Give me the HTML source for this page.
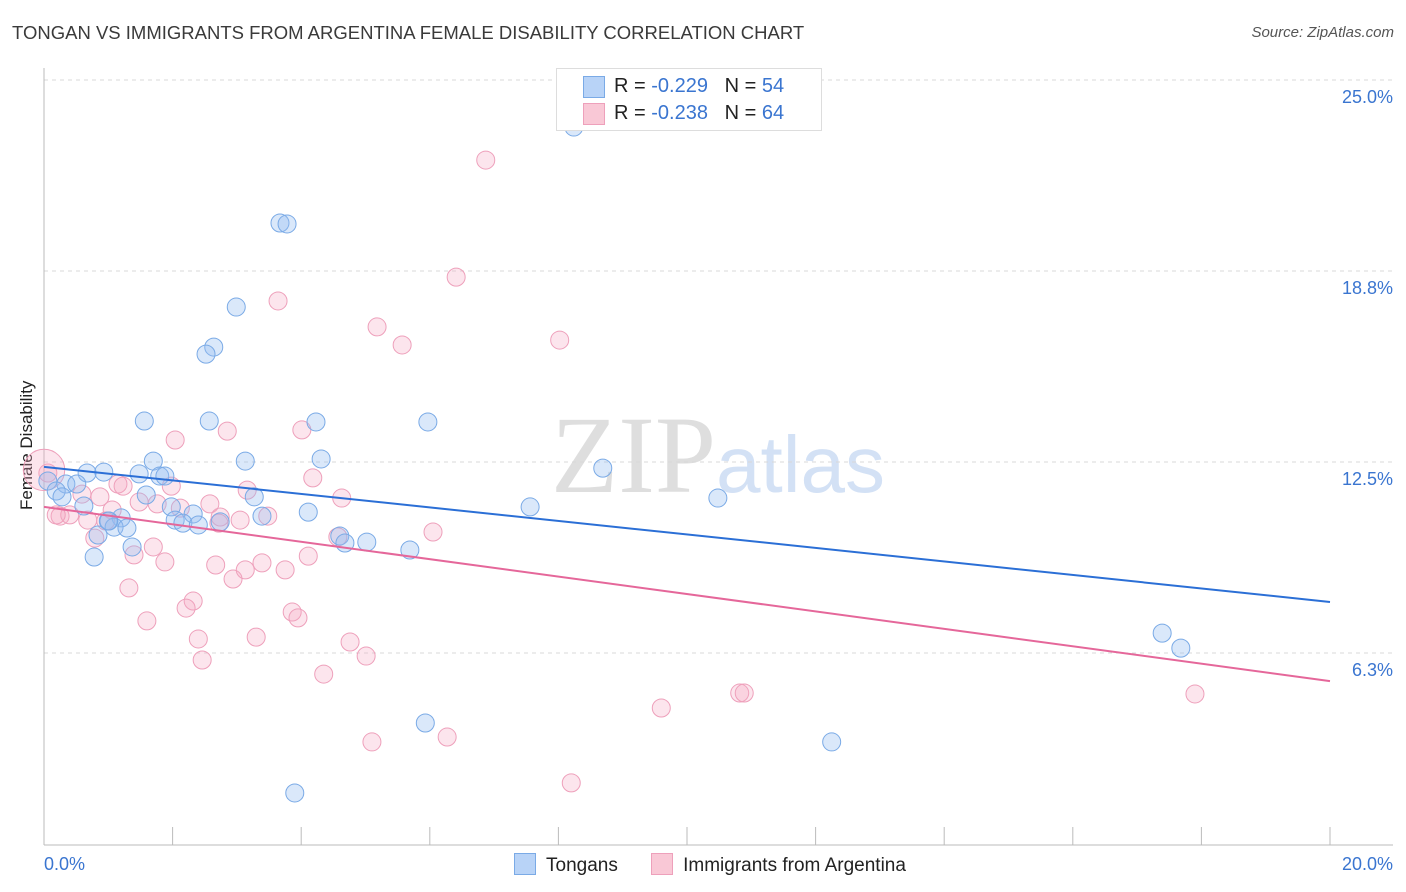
<!DOCTYPE html>
<html><head><meta charset="utf-8"><style>
body{margin:0;background:#fff;font-family:"Liberation Sans",sans-serif;}
#wrap{position:relative;width:1406px;height:892px;overflow:hidden;}
.t{position:absolute;white-space:nowrap;}
</style></head><body>
<div id="wrap">
<div class="t" style="left:12px;top:22px;font-size:18.5px;color:#3a3a3a;">TONGAN VS IMMIGRANTS FROM ARGENTINA FEMALE DISABILITY CORRELATION CHART</div>
<div class="t" style="right:12px;top:24px;font-size:15px;color:#555;font-style:italic;">Source: ZipAtlas.com</div>
<div class="t" style="left:-28px;top:445px;font-size:17px;color:#222;transform:rotate(-90deg);transform-origin:center;width:110px;text-align:center;">Female Disability</div>
<svg id="plot" width="1406" height="892" style="position:absolute;left:0;top:0">
<text x="716" y="492" font-family="Liberation Serif,serif" font-size="110" fill="#dedede" text-anchor="end">ZIP</text>
<text x="716" y="492" font-family="Liberation Sans,sans-serif" font-size="80" fill="#d3e1f5">atlas</text>
</svg>
<div style="position:absolute;left:556px;top:68px;width:264px;height:61px;border:1px solid #ddd;background:#fff;">
<div style="position:absolute;left:26px;top:7px;width:20px;height:20px;background:#b8d3f7;border:1px solid #7aaae6;"></div>
<div class="t" style="left:57px;top:6px;font-size:20px;color:#222;">R = <span style="color:#3a75d0">-0.229</span>&nbsp;&nbsp;&nbsp;N = <span style="color:#3a75d0">54</span></div>
<div style="position:absolute;left:26px;top:34px;width:20px;height:20px;background:#f9c8d6;border:1px solid #eea0bb;"></div>
<div class="t" style="left:57px;top:33px;font-size:20px;color:#222;">R = <span style="color:#3a75d0">-0.238</span>&nbsp;&nbsp;&nbsp;N = <span style="color:#3a75d0">64</span></div>
</div>
<div style="position:absolute;left:514px;top:853px;font-size:19px;color:#222;">
<span style="display:inline-block;"><span style="display:inline-block;width:20px;height:20px;background:#b8d3f7;border:1px solid #7aaae6;vertical-align:-4px;margin-right:10px;"></span>Tongans</span>
<span style="display:inline-block;margin-left:28px;"><span style="display:inline-block;width:20px;height:20px;background:#f9c8d6;border:1px solid #eea0bb;vertical-align:-4px;margin-right:10px;"></span>Immigrants from Argentina</span>
</div>
</div>
<script>
const blueX=[8.24,3.67,3.78,2.99,2.64,2.52,1.56,2.57,4.23,5.97,1.70,3.13,4.31,8.69,0.67,0.93,1.48,1.80,1.88,0.06,0.34,0.51,0.19,0.28,1.59,3.27,10.48,0.62,1.98,7.56,4.11,2.32,1.20,2.04,3.39,2.16,1.01,2.40,2.74,1.09,1.29,0.84,4.60,4.68,5.02,1.37,5.69,0.78,17.39,17.68,5.93,12.25,3.90,1.00];
const blueY=[23.46,20.32,20.29,17.57,16.26,16.03,13.84,13.84,13.81,13.81,12.53,12.53,12.60,12.30,12.14,12.17,12.11,12.04,12.04,11.88,11.78,11.78,11.55,11.36,11.42,11.36,11.32,11.06,11.03,11.03,10.86,10.80,10.67,10.60,10.73,10.50,10.57,10.44,10.54,10.37,10.34,10.11,10.08,9.85,9.88,9.72,9.62,9.39,6.90,6.41,3.96,3.34,1.67,10.57];
const pinkX=[6.87,6.41,3.64,5.18,5.57,8.02,2.04,2.85,4.01,4.18,4.63,0.06,0.0,1.15,1.23,1.98,3.16,0.59,0.87,2.58,1.76,2.12,1.06,1.48,0.25,0.40,0.19,0.68,0.96,2.74,3.05,3.48,2.72,6.05,4.57,0.79,1.70,1.40,4.11,1.88,2.67,3.39,3.13,3.75,2.94,1.32,2.32,2.21,3.86,3.95,1.60,2.40,3.30,4.76,5.01,2.46,4.35,10.82,10.89,17.90,9.60,5.10,6.27,8.20];
const pinkY=[22.38,18.55,17.77,16.92,16.33,16.49,13.22,13.51,13.55,11.98,11.32,12.14,12.24,11.78,11.71,11.71,11.58,11.45,11.36,11.13,11.13,10.99,10.93,11.19,10.73,10.77,10.77,10.60,10.57,10.70,10.60,10.73,10.50,10.21,10.05,10.01,9.72,9.46,9.42,9.23,9.13,9.20,8.97,8.97,8.67,8.38,7.95,7.72,7.59,7.40,7.30,6.71,6.77,6.61,6.15,6.02,5.56,4.94,4.94,4.91,4.45,3.34,3.50,2.00];
const pinkWeight=[1,1,1,1,1,1,1,1,1,1,1,1,2.3,1,1,1,1,1,1,1,1,1,1,1,1,1,1,1,1,1,1,1,1,1,1,1,1,1,1,1,1,1,1,1,1,1,1,1,1,1,1,1,1,1,1,1,1,1,1,1,1,1,1,1];
const blueTrend=[12.34,7.92];
const pinkTrend=[11.03,5.33];
const yTicks=[25.0,18.75,12.5,6.25];
const yTickLabels=["25.0%","18.8%","12.5%","6.3%"];
const xTickLabels=["0.0%","20.0%"];

const X0=44,X1=1330,Ytop=80,Ybot=844;
const sx=v=>X0+(v/20)*(X1-X0);
const sy=v=>Ybot-(v/25)*(Ybot-Ytop);
const svg=document.getElementById('plot');
const NS='http://www.w3.org/2000/svg';
function mk(tag,attrs){const e=document.createElementNS(NS,tag);for(const k in attrs)e.setAttribute(k,attrs[k]);svg.appendChild(e);return e;}
yTicks.forEach((v,i)=>{
  const g=mk('line',{x1:X0,x2:1393,y1:sy(v),y2:sy(v),stroke:'#d8d8d8','stroke-dasharray':'4,4'});
  
  
  const t=mk('text',{x:1393,y:sy(v)+23,'text-anchor':'end','font-size':18,fill:'#3a75d0','font-family':'Liberation Sans,sans-serif'});
  t.textContent=yTickLabels[i];
  
  
});
const ax=mk('line',{x1:X0,x2:1393,y1:845,y2:845,stroke:'#bbb'});


const ay=mk('line',{x1:X0,x2:X0,y1:68,y2:845,stroke:'#bbb'});


for(let i=0;i<=10;i++){
  const tk=mk('line',{x1:sx(i*2),x2:sx(i*2),y1:827,y2:845,stroke:'#bbb'});
  
  
}
[[0,'start'],[20,'end']].forEach((p,i)=>{
  const t=mk('text',{x:i?1393:44,y:870,'text-anchor':p[1],'font-size':18,fill:'#3a75d0','font-family':'Liberation Sans,sans-serif'});
  t.textContent=xTickLabels[i];
  
  
});
pinkX.forEach((x,i)=>{
  const c=mk('circle',{cx:sx(x),cy:sy(pinkY[i]),r:9*pinkWeight[i],fill:'rgba(245,170,195,0.3)',stroke:'#eea0bb','stroke-width':1});
  
  
});
blueX.forEach((x,i)=>{
  const c=mk('circle',{cx:sx(x),cy:sy(blueY[i]),r:9,fill:'rgba(150,190,240,0.35)',stroke:'#7aaae6','stroke-width':1});
  
  
});
const bl=mk('line',{x1:sx(0),y1:sy(blueTrend[0]),x2:sx(20),y2:sy(blueTrend[1]),stroke:'#2b6fd6','stroke-width':2});


const pl=mk('line',{x1:sx(0),y1:sy(pinkTrend[0]),x2:sx(20),y2:sy(pinkTrend[1]),stroke:'#e5679a','stroke-width':2});


</script>
</body></html>
